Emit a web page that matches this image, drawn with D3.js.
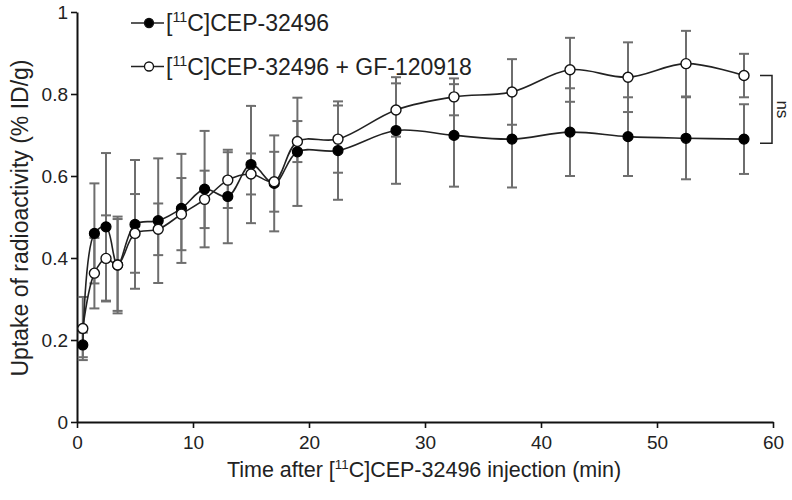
<!DOCTYPE html>
<html><head><meta charset="utf-8">
<script src="https://cdn.jsdelivr.net/npm/d3@7/dist/d3.min.js"></script>
<style>html,body{margin:0;padding:0;background:#fff;}svg{display:block;font-family:Arial,"Liberation Sans",sans-serif;}</style>
</head><body>
<svg id="chart" width="792" height="500"></svg>
<script>
const times = [0.5,1.5,2.5,3.5,5,7,9,11,13,15,17,19,22.5,27.5,32.5,37.5,42.5,47.5,52.5,57.5];
const control = [0.188,0.46,0.476,0.383,0.482,0.491,0.521,0.568,0.55,0.628,0.582,0.659,0.662,0.711,0.699,0.69,0.707,0.696,0.692,0.69];
const controlSD = [0.03,0.122,0.18,0.118,0.157,0.152,0.133,0.142,0.114,0.143,0.117,0.132,0.12,0.13,0.125,0.118,0.107,0.096,0.1,0.085];
const withGF = [0.228,0.363,0.399,0.383,0.46,0.47,0.507,0.543,0.59,0.605,0.586,0.684,0.69,0.761,0.793,0.805,0.859,0.841,0.874,0.845];
const withGFSD = [0.077,0.086,0.105,0.112,0.096,0.063,0.088,0.07,0.068,0.05,0.073,0.05,0.082,0.065,0.045,0.08,0.078,0.085,0.08,0.053];
const xTicks = [0,10,20,30,40,50,60];
const yTicks = [0,0.2,0.4,0.6,0.8,1];
const legendLabels = ["", " + GF-120918"];
const nsRange = [0.845, 0.68];

const svg = d3.select("#chart");
const x = d3.scaleLinear().domain([0,60]).range([77,773]);
const y = d3.scaleLinear().domain([0,1]).range([422,12]);

// axes
const xAxis = svg.append("g").attr("transform","translate(0,422)")
  .call(d3.axisBottom(x).tickValues(xTicks).tickSize(6).tickSizeOuter(0).tickFormat(d3.format("d")));
const yAxis = svg.append("g").attr("transform","translate(77,0)")
  .call(d3.axisLeft(y).tickValues(yTicks).tickSize(6).tickSizeOuter(0).tickFormat(d => d===0||d===1 ? d : d3.format(".1f")(d)));
[xAxis,yAxis].forEach(g=>{
  g.select(".domain").attr("stroke","#111").attr("stroke-width",2);
  g.selectAll(".tick line").attr("stroke","#111").attr("stroke-width",1.6);
  g.selectAll(".tick text").attr("fill","#222").style("font-size","19px").style("font-family","Arial,'Liberation Sans',sans-serif");
});
xAxis.selectAll(".tick text").attr("dy","0.95em").attr("y",9);
yAxis.selectAll(".tick text").attr("x",-9);

// error bars
function drawErr(vals, sds){
  const g = svg.append("g").attr("stroke","#6e6e6e").attr("stroke-width",2).attr("fill","none");
  times.forEach((t,i)=>{
    const cx = x(t), hi = y(vals[i]+sds[i]), lo = y(vals[i]-sds[i]);
    g.append("line").attr("x1",cx).attr("x2",cx).attr("y1",hi).attr("y2",lo);
    g.append("line").attr("x1",cx-5).attr("x2",cx+5).attr("y1",hi).attr("y2",hi);
    g.append("line").attr("x1",cx-5).attr("x2",cx+5).attr("y1",lo).attr("y2",lo);
  });
}
drawErr(control, controlSD);
drawErr(withGF, withGFSD);

const line = d3.line().x((d,i)=>x(times[i])).y(d=>y(d)).curve(d3.curveCatmullRom.alpha(0.5));
svg.append("path").attr("d",line(control)).attr("fill","none").attr("stroke","#222").attr("stroke-width",1.6);
svg.append("path").attr("d",line(withGF)).attr("fill","none").attr("stroke","#222").attr("stroke-width",1.6);

svg.append("g").selectAll("circle").data(control).join("circle")
  .attr("cx",(d,i)=>x(times[i])).attr("cy",d=>y(d)).attr("r",5)
  .attr("fill","#000").attr("stroke","#000").attr("stroke-width",1.2);
svg.append("g").selectAll("circle").data(withGF).join("circle")
  .attr("cx",(d,i)=>x(times[i])).attr("cy",d=>y(d)).attr("r",5)
  .attr("fill","#fff").attr("stroke","#111").attr("stroke-width",1.4);

// label helper with superscript
function compound(textSel, fs, suffix){
  textSel.append("tspan").text("[");
  textSel.append("tspan").text("11").style("font-size",(fs*0.62)+"px").attr("dy",-fs*0.38);
  textSel.append("tspan").text("C]CEP-32496").attr("dy",fs*0.38);
  if(suffix) textSel.append("tspan").text(suffix);
}

// legend
const legRows = [{cy:23, fill:"#000"},{cy:66.5, fill:"#fff"}];
legRows.forEach((r,i)=>{
  svg.append("line").attr("x1",131).attr("x2",164).attr("y1",r.cy).attr("y2",r.cy).attr("stroke","#222").attr("stroke-width",1.6);
  svg.append("circle").attr("cx",149).attr("cy",r.cy).attr("r",4.5).attr("fill",r.fill).attr("stroke","#111").attr("stroke-width",1.3);
  const t = svg.append("text").attr("x",166).attr("y",r.cy+8).style("font-size","23px").attr("fill","#222");
  compound(t,23,legendLabels[i]);
});

// ns bracket
const bx = x(57.5);
svg.append("path")
  .attr("d",`M${bx+16},${y(nsRange[0])}H${bx+28}V${y(nsRange[1])}H${bx+16}`)
  .attr("fill","none").attr("stroke","#222").attr("stroke-width",1.5);
svg.append("text").attr("transform",`translate(${bx+33},${(y(nsRange[0])+y(nsRange[1]))/2}) rotate(90)`)
  .attr("text-anchor","middle").style("font-size","17px").attr("fill","#222").text("ns");

// axis titles
const xt = svg.append("text").attr("x",424).attr("y",477).attr("text-anchor","middle").style("font-size","21.5px").attr("fill","#222");
xt.append("tspan").text("Time after ");
compound(xt,21.5," injection (min)");
svg.append("text").attr("transform","translate(28,218) rotate(-90)").attr("text-anchor","middle")
  .style("font-size","23px").attr("fill","#222").text("Uptake of radioactivity (% ID/g)");
</script>
</body></html>
